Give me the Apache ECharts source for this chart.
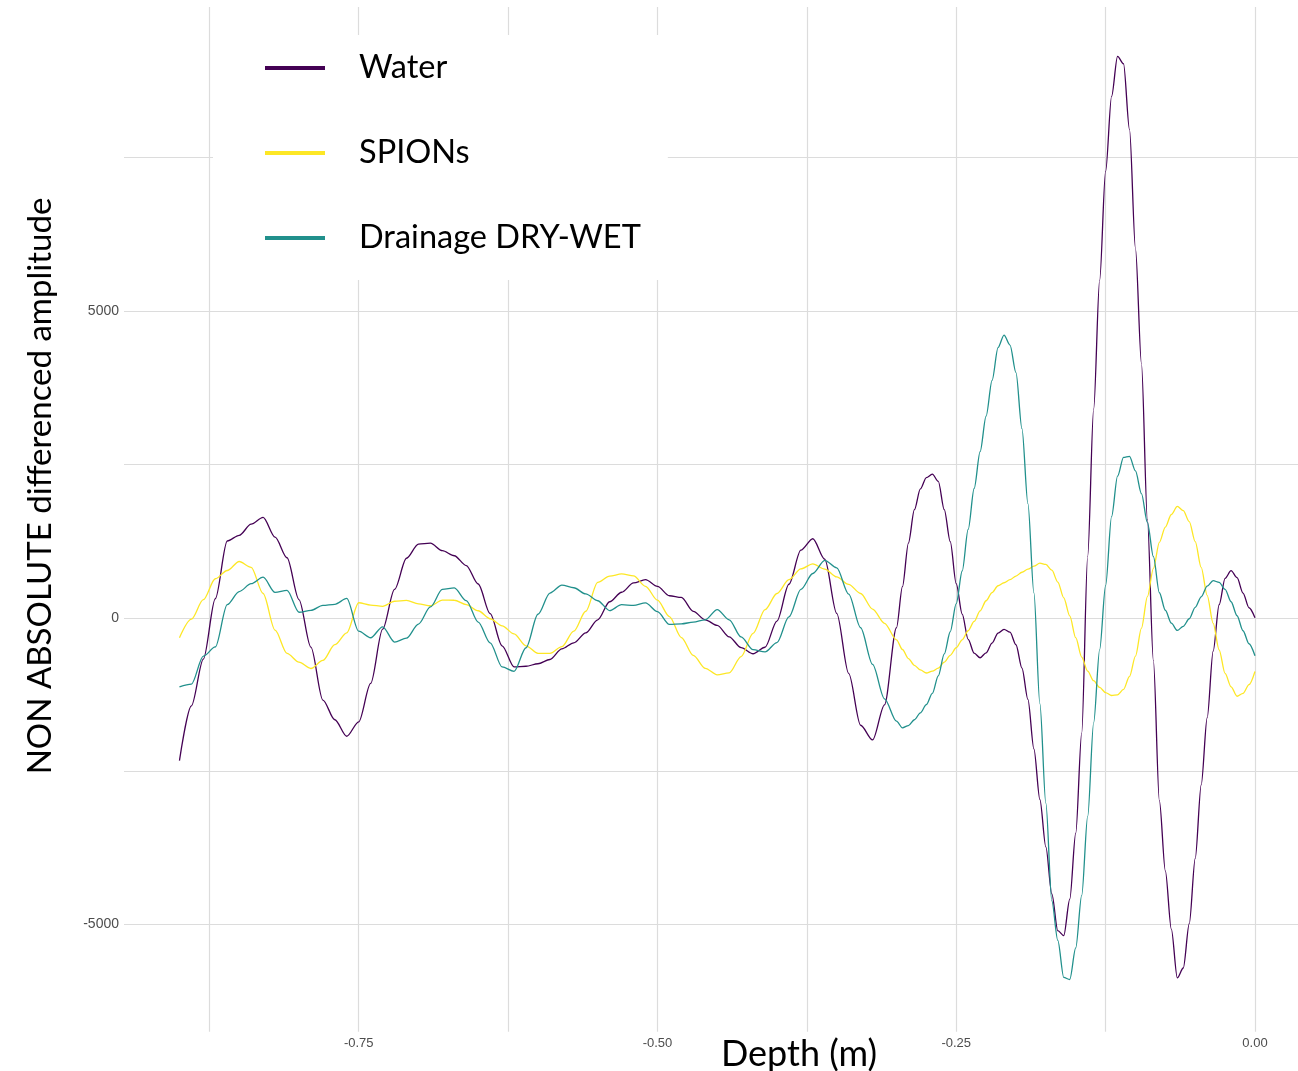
<!DOCTYPE html>
<html>
<head>
<meta charset="utf-8">
<script src="https://cdn.jsdelivr.net/npm/echarts@6/dist/echarts.min.js"></script>
<style>
html,body{margin:0;padding:0;background:#fff;}
#c{width:1298px;height:1071px;}
</style>
</head>
<body>
<div id="c"></div>
<script>
// Depth (m)
const depth = [
-0.90,-0.89,-0.88,-0.87,-0.86,-0.85,-0.84,-0.83,-0.82,-0.81,
-0.80,-0.79,-0.78,-0.77,-0.76,-0.75,-0.74,-0.73,-0.72,-0.71,
-0.70,-0.69,-0.68,-0.67,-0.66,-0.65,-0.64,-0.63,-0.62,-0.61,
-0.60,-0.59,-0.58,-0.57,-0.56,-0.55,-0.54,-0.53,-0.52,-0.51,
-0.50,-0.49,-0.48,-0.47,-0.46,-0.45,-0.44,-0.43,-0.42,-0.41,
-0.40,-0.39,-0.38,-0.37,-0.36,-0.35,-0.34,-0.33,-0.32,-0.31,
-0.300,-0.295,-0.290,-0.285,-0.280,-0.275,-0.270,-0.265,-0.260,-0.255,
-0.250,-0.245,-0.240,-0.235,-0.230,-0.225,-0.220,-0.215,-0.210,-0.205,
-0.200,-0.195,-0.190,-0.185,-0.180,-0.175,-0.170,-0.165,-0.160,-0.155,
-0.150,-0.145,-0.140,-0.135,-0.130,-0.125,-0.120,-0.115,-0.110,-0.105,
-0.100,-0.095,-0.090,-0.085,-0.080,-0.075,-0.070,-0.065,-0.060,-0.055,
-0.050,-0.045,-0.040,-0.035,-0.030,-0.025,-0.020,-0.015,-0.010,-0.005,
0.000
];

const water = [
-2330,-1435,-674,310,1251,1344,1525,1636,1313,978,
297,-480,-1341,-1662,-1931,-1696,-1070,-186,463,970,
1200,1215,1093,1011,851,550,67,-457,-801,-790,
-750,-680,-507,-408,-246,-33,261,416,568,621,
510,359,331,103,-34,-124,-311,-488,-587,-481,
-54,546,1101,1288,954,72,-907,-1752,-1991,-1419,
-163,507,1218,1761,2101,2285,2340,2223,1761,1240,
555,59,-352,-577,-652,-571,-413,-250,-188,-235,
-440,-820,-1331,-2137,-2962,-3735,-4502,-5100,-5180,-4588,
-3512,-1881,1000,3400,5500,7274,8497,9150,9030,7959,
6018,4143,1598,-700,-2981,-4126,-5076,-5870,-5709,-4986,
-3921,-2724,-1630,-545,212,643,768,654,403,163,
0
];

const spions = [
-326,-23,295,636,770,917,822,395,-201,-579,
-723,-827,-696,-439,-246,245,207,186,269,282,
227,196,287,285,214,114,-16,-132,-263,-457,
-579,-582,-471,-217,106,577,678,714,682,512,
287,20,-323,-613,-825,-930,-899,-633,-256,132,
395,621,796,879,794,665,545,395,142,-90,
-359,-517,-665,-776,-851,-900,-871,-822,-724,-612,
-489,-359,-212,-60,111,277,411,522,571,620,
680,742,793,840,889,869,775,582,325,31,
-325,-641,-869,-1026,-1135,-1220,-1267,-1256,-1168,-956,
-626,-170,343,806,1230,1478,1683,1815,1747,1566,
1240,820,365,-91,-522,-907,-1125,-1279,-1233,-1091,
-876
];

const drainage = [
-1125,-1081,-626,-476,215,427,555,661,413,445,
90,121,202,219,315,-219,-326,-147,-396,-333,
-103,176,462,486,279,-70,-409,-802,-873,-489,
57,403,532,489,388,277,117,214,201,243,
99,-109,-99,-72,-33,134,-33,-313,-520,-556,
-404,13,462,721,935,814,385,-163,-760,-1321,
-1686,-1794,-1757,-1662,-1549,-1416,-1233,-946,-590,-228,
230,762,1439,2107,2707,3286,3869,4404,4608,4444,
3996,3083,1859,408,-1400,-3022,-4616,-5260,-5863,-5896,
-5382,-4526,-3239,-1713,-522,522,1647,2308,2614,2631,
2393,2022,1551,995,408,122,-88,-207,-140,-16,
170,342,514,605,577,462,261,33,-212,-424,
-620
];

const seriesNames = ['Water', 'SPIONs', 'Drainage DRY-WET'];
const seriesColors = ['#440154', '#FDE725', '#21908C'];
const xTickLabels = [-0.75, -0.50, -0.25, 0.00];
const yTickLabels = [-5000, 0, 5000];
const xGridValues = [-0.875, -0.75, -0.625, -0.5, -0.375, -0.25, -0.125, 0];
const yGridValues = [-5000, -2500, 0, 2500, 5000, 7500];
const xTitle = 'Depth (m)';
const yTitle = 'NON ABSOLUTE differenced amplitude';

const chart = echarts.init(document.getElementById('c'), null, {renderer: 'canvas'});

const allValues = [water, spions, drainage];
const series = allValues.map((vals, k) => ({
  name: seriesNames[k],
  type: 'line',
  data: depth.map((d, i) => [d, vals[i]]),
  showSymbol: false,
  symbol: 'none',
  smooth: 0.3,
  smoothMonotone: 'x',
  color: seriesColors[k],
  itemStyle: {color: seriesColors[k]},
  lineStyle: {color: seriesColors[k], width: 1.3},
  z: 2 + k,
  silent: true
}));

const gridColor = '#dcdcdc';

chart.setOption({
  animation: false,
  backgroundColor: '#ffffff',
  grid: {left: 124, right: 0, top: 7, bottom: 39.3, containLabel: false},
  xAxis: {
    type: 'value',
    min: -0.9464,
    max: 0.036,
    axisLine: {show: false},
    axisTick: {show: false, customValues: xGridValues},
    axisLabel: {
      customValues: xTickLabels,
      formatter: v => (Math.abs(v) < 1e-9 ? 0 : v).toFixed(2),
      fontFamily: 'Liberation Sans',
      fontSize: 13,
      color: '#4d4d4d',
      margin: 5
    },
    splitLine: {show: true, lineStyle: {color: gridColor, width: 1.2}}
  },
  yAxis: {
    type: 'value',
    min: -6747,
    max: 9955,
    axisLine: {show: false},
    axisTick: {show: false, customValues: yGridValues},
    axisLabel: {
      customValues: yTickLabels,
      formatter: v => String(v),
      fontFamily: 'Liberation Sans',
      fontSize: 14,
      color: '#4d4d4d',
      margin: 5
    },
    splitLine: {show: true, lineStyle: {color: gridColor, width: 1.2}}
  },
  legend: {
    orient: 'vertical',
    left: 213,
    top: 35,
    data: seriesNames,
    icon: 'rect',
    itemWidth: 60,
    itemHeight: 4,
    itemGap: 45,
    selectedMode: false,
    backgroundColor: '#ffffff',
    padding: [13, 27, 22, 52],
    textStyle: {
      fontFamily: 'Lato',
      fontSize: 32.5,
      color: '#000000',
      lineHeight: 40,
      padding: [0, 0, 0, 29]
    }
  },
  graphic: [
    {
      type: 'text',
      x: 40,
      y: 486,
      rotation: Math.PI / 2,
      silent: true,
      style: {
        text: yTitle,
        fontFamily: 'Lato',
        fontSize: 33,
        fill: '#000000',
        align: 'center',
        verticalAlign: 'middle'
      }
    },
    {
      type: 'text',
      x: 799,
      y: 1054,
      silent: true,
      style: {
        text: xTitle,
        fontFamily: 'Lato',
        fontSize: 36,
        fill: '#000000',
        align: 'center',
        verticalAlign: 'middle'
      }
    }
  ],
  series: series
});
</script>
</body>
</html>
